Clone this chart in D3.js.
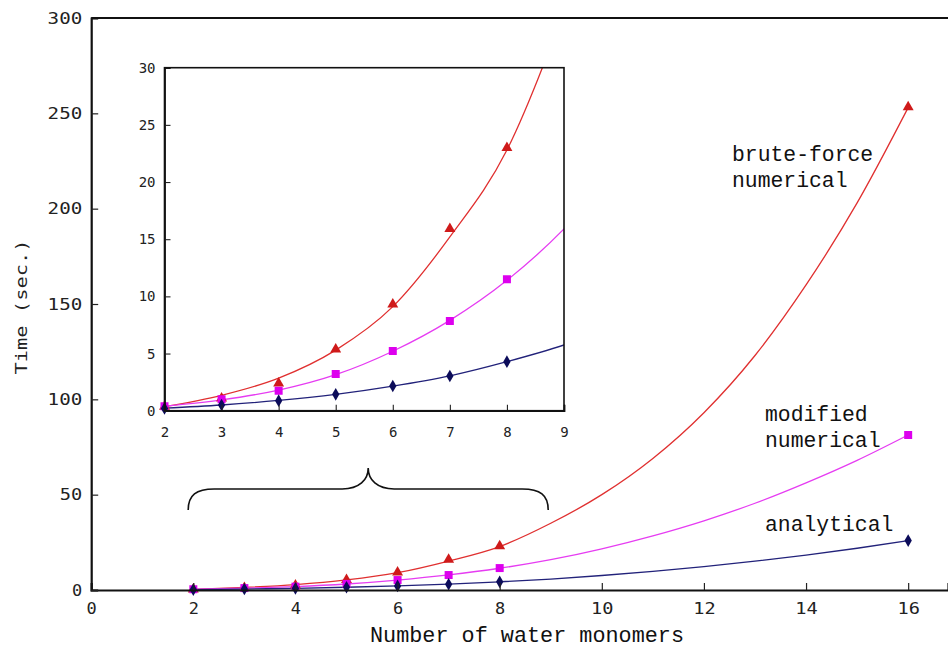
<!DOCTYPE html>
<html>
<head>
<meta charset="utf-8">
<script src="https://cdn.jsdelivr.net/npm/d3@7"></script>
<style>
  body { margin: 0; background: #fff; }
  svg { display: block; }
  .tick-main { font-family: "DejaVu Sans Mono", monospace; font-size: 16px; fill: #222; }
  .tick-inset { font-family: "DejaVu Sans Mono", monospace; font-size: 14px; fill: #222; }
  .serie-label { font-family: "Liberation Mono", "Courier New", monospace; font-size: 21.4px; fill: #111; }
</style>
</head>
<body>
<script>
// ---------- datos ----------
const nMonomeros = [2, 3, 4, 5, 6, 7, 8, 16];
const tBruteForce = [0.35, 1.08, 2.4, 5.37, 9.3, 15.9, 23.0, 253.3];
const tModified   = [0.4, 1.0, 1.75, 3.2, 5.22, 7.85, 11.5, 81.3];
const tAnalytical = [0.2, 0.5, 0.88, 1.43, 2.16, 3.04, 4.29, 25.9];

// curvas de ajuste
const ajusteX          = [2, 3, 4, 5, 6, 7, 8, 9, 10, 11, 12, 13, 14, 15, 16];
const ajusteBruteForce = [0.35, 1.35, 2.85, 5.3, 9.1, 15.2, 22.8, 35, 50, 69, 93, 123, 160, 203, 253];
const ajusteModified   = [0.4, 0.95, 1.8, 3.15, 5.2, 7.9, 11.4, 15.9, 21.6, 28.4, 36.3, 45.5, 56.2, 68, 81.3];
const ajusteAnalytical = [0.22, 0.5, 0.9, 1.43, 2.15, 3.05, 4.29, 5.75, 7.6, 9.8, 12.3, 15.1, 18.3, 21.9, 25.9];

const ticksXMain  = [0, 2, 4, 6, 8, 10, 12, 14, 16];
const ticksYMain  = [0, 50, 100, 150, 200, 250, 300];
const ticksXInset = [2, 3, 4, 5, 6, 7, 8, 9];
const ticksYInset = [0, 5, 10, 15, 20, 25, 30];

const etiquetas = [
  { lineas: ["brute-force", "numerical"], x: 732, y: 161 },
  { lineas: ["modified", "numerical"], x: 765, y: 421 },
  { lineas: ["analytical"], x: 765, y: 531 },
];

// ---------- estilos por serie ----------
const SERIES = [
  { nombre: "brute", valores: tBruteForce, ajuste: ajusteBruteForce, marca: d3.symbolTriangle, fill: "#cf1a1a", linea: "#e03030", tam: 52 },
  { nombre: "modified", valores: tModified, ajuste: ajusteModified, marca: d3.symbolSquare, fill: "#dd00ee", linea: "#e63cf2", tam: 64 },
  { nombre: "analytical", valores: tAnalytical, ajuste: ajusteAnalytical, marca: d3.symbolDiamond, fill: "#0c0c5a", linea: "#22227a", tam: 46 },
];

const W = 948, H = 648;
const PASO = 12.2; // ancho por carácter de los números del eje principal
const ancho = s => String(s).length * PASO - 2;

const svg = d3.select("body").append("svg").attr("width", W).attr("height", H);

// ---------- gráfico principal ----------
const x = d3.scaleLinear().domain([0, 16.78]).range([91.2, 948]);
const y = d3.scaleLinear().domain([0, 300]).range([590, 18]);

const main = svg.append("g");

function pintarCurvas(g, sx, sy) {
  SERIES.forEach(s => {
    const linea = d3.line()
      .x((d, i) => sx(ajusteX[i]))
      .y(d => sy(d))
      .curve(d3.curveMonotoneX);
    g.append("path")
      .datum(s.ajuste)
      .attr("d", linea)
      .attr("fill", "none")
      .attr("stroke", s.linea)
      .attr("stroke-width", 1.3);
  });
  SERIES.forEach(s => {
    g.append("g").selectAll("path")
      .data(s.valores)
      .enter()
      .append("path")
      .attr("d", d3.symbol().type(s.marca).size(s.tam))
      .attr("transform", (d, i) => `translate(${sx(nMonomeros[i])},${sy(d)})`)
      .attr("fill", s.fill);
  });
}

pintarCurvas(main, x, y);

// ejes
const axisX = main.append("g").attr("transform", `translate(0,${y(0)})`)
  .call(d3.axisBottom(x).tickValues(ticksXMain).tickSize(-7).tickPadding(13).tickFormat(d3.format("d")));
const axisY = main.append("g").attr("transform", `translate(${x(0)},0)`)
  .call(d3.axisLeft(y).tickValues(ticksYMain).tickSize(-7).tickPadding(9).tickFormat(d3.format("d")));
[axisX, axisY].forEach(a => {
  a.attr("font-size", null).attr("font-family", null);
  a.select(".domain").attr("stroke", "#111").attr("stroke-width", 2.2);
  a.selectAll(".tick line").attr("stroke", "#222").attr("stroke-width", 1.2);
  a.selectAll("text").attr("class", "tick-main")
    .attr("textLength", d => ancho(d))
    .attr("lengthAdjust", "spacingAndGlyphs");
});

// línea superior del marco
main.append("line")
  .attr("x1", x(0)).attr("x2", W)
  .attr("y1", y(300)).attr("y2", y(300))
  .attr("stroke", "#111").attr("stroke-width", 2);

// títulos de ejes
main.append("text")
  .attr("class", "tick-main")
  .attr("transform", `translate(27,307) rotate(-90)`)
  .attr("text-anchor", "middle")
  .attr("textLength", 135)
  .attr("lengthAdjust", "spacingAndGlyphs")
  .text("Time (sec.)");

main.append("text")
  .attr("class", "serie-label")
  .attr("x", 527).attr("y", 642)
  .attr("text-anchor", "middle")
  .style("font-size", "21.8px")
  .text("Number of water monomers");

// etiquetas de series
etiquetas.forEach(e => {
  const t = main.append("text").attr("class", "serie-label");
  e.lineas.forEach((l, i) => {
    t.append("tspan").attr("x", e.x).attr("y", e.y + i * 26.3).text(l);
  });
});

// llave
const bx0 = x(1.9), bx1 = x(8.95), bxm = (bx0 + bx1) / 2;
const byEnd = y(42), byMid = y(53), byTip = y(64);
main.append("path")
  .attr("d", `M${bx0},${byEnd} C${bx0},${byMid + 6} ${bx0 + 8},${byMid} ${bx0 + 26},${byMid}
    L${bxm - 26},${byMid} C${bxm - 9},${byMid} ${bxm},${byMid - 9} ${bxm},${byTip}
    C${bxm},${byMid - 9} ${bxm + 9},${byMid} ${bxm + 26},${byMid}
    L${bx1 - 26},${byMid} C${bx1 - 8},${byMid} ${bx1},${byMid + 6} ${bx1},${byEnd}`)
  .attr("fill", "none")
  .attr("stroke", "#111")
  .attr("stroke-width", 1.6);

// ---------- recuadro (inset) ----------
const xi = d3.scaleLinear().domain([2, 9]).range([164.5, 564]);
const yi = d3.scaleLinear().domain([0, 30]).range([410.7, 67.7]);

const inset = svg.append("g");
inset.append("rect")
  .attr("x", xi(2)).attr("y", yi(30))
  .attr("width", xi(9) - xi(2)).attr("height", yi(0) - yi(30))
  .attr("fill", "#fff");

svg.append("defs").append("clipPath").attr("id", "clip-inset")
  .append("rect")
  .attr("x", xi(2) - 6).attr("y", yi(30))
  .attr("width", xi(9) - xi(2) + 6).attr("height", yi(0) - yi(30) + 6);

const insetPlot = inset.append("g").attr("clip-path", "url(#clip-inset)");
pintarCurvas(insetPlot, xi, yi);

const axXi = inset.append("g").attr("transform", `translate(0,${yi(0)})`)
  .call(d3.axisBottom(xi).tickValues(ticksXInset).tickSize(-6).tickPadding(16).tickFormat(d3.format("d")));
const axYi = inset.append("g").attr("transform", `translate(${xi(2)},0)`)
  .call(d3.axisLeft(yi).tickValues(ticksYInset).tickSize(-6).tickPadding(9).tickFormat(d3.format("d")));
[axXi, axYi].forEach(a => {
  a.attr("font-size", null).attr("font-family", null);
  a.select(".domain").attr("stroke", "#111").attr("stroke-width", 1.8);
  a.selectAll(".tick line").attr("stroke", "#222").attr("stroke-width", 1.1);
  a.selectAll("text").attr("class", "tick-inset");
});

inset.append("rect")
  .attr("x", xi(2)).attr("y", yi(30))
  .attr("width", xi(9) - xi(2)).attr("height", yi(0) - yi(30))
  .attr("fill", "none")
  .attr("stroke", "#111")
  .attr("stroke-width", 1.6);
</script>
</body>
</html>
